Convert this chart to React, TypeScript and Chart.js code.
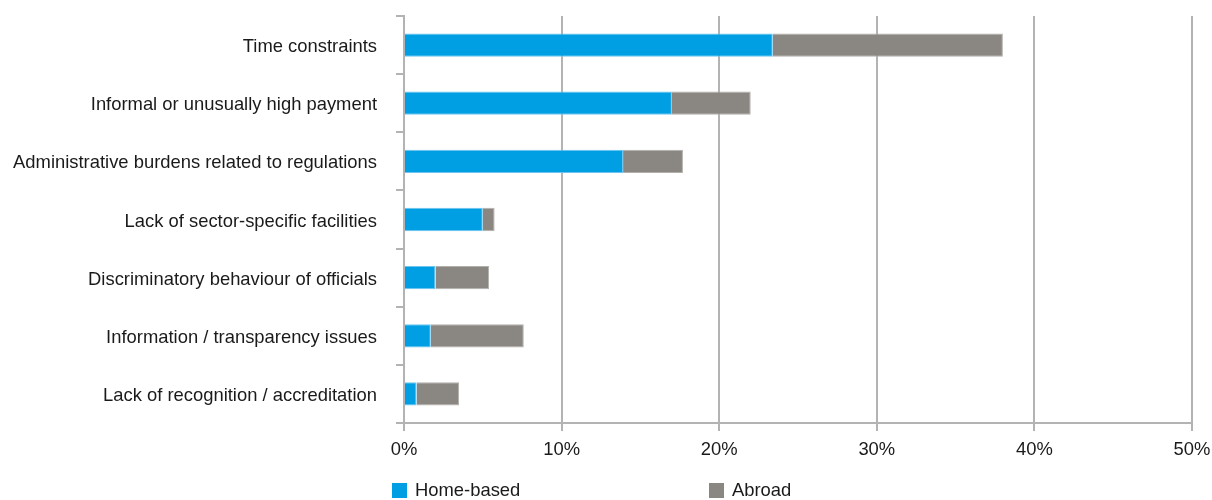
import React, { useEffect, useRef } from "react";
import { Chart, registerables } from "chart.js";

Chart.register(...registerables);

const categories = [
  "Time constraints",
  "Informal or unusually high payment",
  "Administrative burdens related to regulations",
  "Lack of sector-specific facilities",
  "Discriminatory behaviour of officials",
  "Information / transparency issues",
  "Lack of recognition / accreditation",
];
const homeBased = [23.4, 17.0, 13.9, 5.0, 2.0, 1.7, 0.8];
const abroad = [14.6, 5.0, 3.8, 0.75, 3.4, 5.9, 2.7];
const seriesNames = ["Home-based", "Abroad"];
const seriesColors = ["#009FE3", "#8A8682"];
const xTicks = [0, 10, 20, 30, 40, 50];

const FONT = "'Liberation Sans', Arial, sans-serif";
const FONT_SIZE = 18.4;
const GRID = "#b3b3b3";

const legendPlugin = {
  id: "customLegend",
  afterDraw(chart: any) {
    const ctx = chart.ctx;
    const xs = [392, 709];
    ctx.save();
    ctx.font = `${FONT_SIZE}px ${FONT}`;
    ctx.textBaseline = "middle";
    ctx.textAlign = "left";
    seriesNames.forEach((name, i) => {
      ctx.fillStyle = seriesColors[i];
      ctx.fillRect(xs[i], 483, 15, 15);
      ctx.fillStyle = "#1a1a1a";
      ctx.fillText(name, xs[i] + 23, 491);
    });
    ctx.restore();
  },
};

export default function App() {
  const ref = useRef<HTMLCanvasElement>(null);
  useEffect(() => {
    if (!ref.current) return;
    const chart = new Chart(ref.current, {
      type: "bar",
      data: {
        labels: categories,
        datasets: [
          {
            label: seriesNames[0],
            data: homeBased,
            backgroundColor: seriesColors[0],
            borderColor: "#6cc4ee",
            borderWidth: 1,
            barPercentage: 0.4,
            categoryPercentage: 1,
          },
          {
            label: seriesNames[1],
            data: abroad,
            backgroundColor: seriesColors[1],
            borderColor: "#b3b0ac",
            borderWidth: 1,
            barPercentage: 0.4,
            categoryPercentage: 1,
          },
        ],
      },
      options: {
        indexAxis: "y",
        animation: false,
        responsive: true,
        maintainAspectRatio: false,
        layout: { padding: { top: 16, right: 20, bottom: 32, left: 0 } },
        plugins: {
          legend: { display: false },
          tooltip: { enabled: false },
        },
        scales: {
          x: {
            stacked: true,
            min: 0,
            max: 50,
            afterBuildTicks(scale: any) {
              scale.ticks = xTicks.map((v) => ({ value: v }));
            },
            afterFit(scale: any) {
              scale.height = 45;
              scale.paddingLeft = 0;
              scale.paddingRight = 0;
            },
            grid: {
              color: GRID,
              lineWidth: 2,
              tickLength: 8,
              drawTicks: true,
            },
            border: { color: GRID, width: 2 },
            ticks: {
              color: "#1a1a1a",
              font: { family: FONT, size: FONT_SIZE },
              padding: 8,
              maxRotation: 0,
              callback: (v: any) => `${v}%`,
            },
          },
          y: {
            stacked: true,
            afterFit(scale: any) {
              scale.width = 404;
              scale.paddingTop = 0;
              scale.paddingBottom = 0;
            },
            grid: {
              drawOnChartArea: false,
              drawTicks: true,
              tickLength: 8,
              color: GRID,
              lineWidth: 2,
            },
            border: { color: GRID, width: 2 },
            ticks: {
              color: "#1a1a1a",
              font: { family: FONT, size: FONT_SIZE },
              padding: 19,
              labelOffset: 2,
              autoSkip: false,
            },
          },
        },
      },
      plugins: [legendPlugin],
    });
    return () => chart.destroy();
  }, []);
  return (
    <div style={{ position: "fixed", left: 0, top: 0, width: 1212, height: 500, background: "#fff" }}>
      <canvas ref={ref} />
    </div>
  );
}
